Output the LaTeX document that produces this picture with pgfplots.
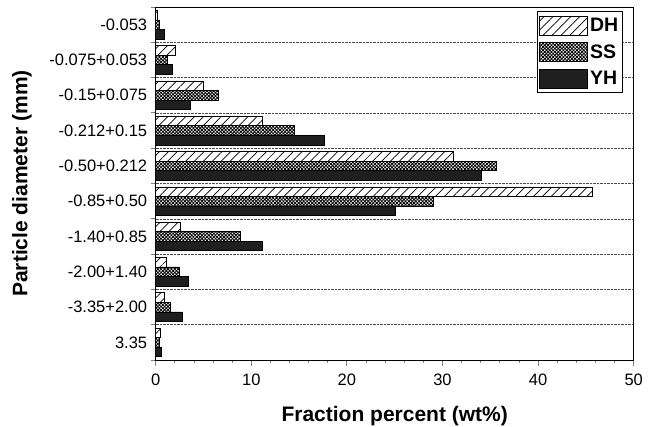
\documentclass[border=0pt]{standalone}
\usepackage{pgfplots}
\pgfplotsset{compat=1.18}
\usepackage{fontspec}
\setmainfont{Liberation Sans}
\usetikzlibrary{patterns.meta}
\begin{document}
\begin{tikzpicture}
\begin{axis}[
  name=ax,
  scale only axis,
  width=478pt, height=353pt,
  xbar,
  xmin=0, xmax=50,
  ymin=-0.5, ymax=9.5,
  y dir=reverse,
  axis line style={line width=0.9pt},
  tick align=outside,
  xtick pos=bottom, ytick pos=left,
  xtick={0,10,20,30,40,50},
  minor x tick num=4,
  ytick={0,1,2,3,4,5,6,7,8,9},
  yticklabels={-0.053,-0.075+0.053,-0.15+0.075,-0.212+0.15,-0.50+0.212,-0.85+0.50,-1.40+0.85,-2.00+1.40,-3.35+2.00,3.35},
  minor ytick={-0.5,0.5,1.5,2.5,3.5,4.5,5.5,6.5,7.5,8.5,9.5},
  ymajorgrids=false,
  yminorgrids=true,
  minor y grid style={densely dotted, line width=0.6pt, black!70},
  major tick length=6pt,
  minor tick length=3pt,
  minor y tick style={line width=0.8pt, /pgfplots/minor tick length=5pt},
  major x tick style={line width=0.8pt},
  minor x tick style={line width=0.8pt},
  major y tick style={draw=none},
  ticklabel style={font=\fontsize{16.5}{18}\selectfont},
  /pgf/number format/assume math mode=true,
  xticklabel style={yshift=-4pt},
  yticklabel style={xshift=1pt},
  xlabel={\bfseries Fraction percent (wt\%)},
  ylabel={\bfseries Particle diameter (mm)},
  xlabel style={font=\fontsize{21}{24}\selectfont, at={(axis description cs:0.5,-0.16)}, anchor=center},
  ylabel style={font=\fontsize{21}{24}\selectfont, at={(axis description cs:-0.28,0.5)}, anchor=center, rotate=0},
  bar width=0.27,
  legend style={at={(1,1)}, anchor=north east, xshift=-10.5pt, yshift=-4.3pt,
    draw=black, line width=0.8pt, font=\fontsize{19.5}{21}\selectfont\bfseries,
    inner xsep=1.5pt, inner ysep=4pt, row sep=7pt,
    nodes={inner ysep=0.5pt, inner xsep=3pt}},
  legend cell align=left,
  legend image code/.code={\draw[#1, line width=0.6pt] (0pt,-9.5pt) rectangle (47.5pt,9.5pt);},
]
\addplot[draw=black, line width=0.6pt, pattern={Lines[angle=45,distance=6.3pt,line width=0.7pt]}, bar shift=-0.27]
  coordinates {(0.2,0) (2.1,1) (5.0,2) (11.1,3) (31.1,4) (45.7,5) (2.6,6) (1.1,7) (0.9,8) (0.45,9)};
\addplot[draw=black, line width=0.6pt, pattern={Hatch[angle=45,distance=2.4pt,line width=0.85pt]}, bar shift=0]
  coordinates {(0.4,0) (1.2,1) (6.5,2) (14.5,3) (35.6,4) (29.0,5) (8.8,6) (2.5,7) (1.5,8) (0.4,9)};
\addplot[draw=black, line width=0.6pt, fill=black!88, bar shift=0.27]
  coordinates {(0.9,0) (1.7,1) (3.6,2) (17.6,3) (34.1,4) (25.1,5) (11.1,6) (3.4,7) (2.8,8) (0.6,9)};
\legend{DH,SS,YH}
\end{axis}
\pgfresetboundingbox
\path (ax.south west) ++(-155.7pt,-67pt) rectangle ++(661pt,427pt);
\end{tikzpicture}
\end{document}
